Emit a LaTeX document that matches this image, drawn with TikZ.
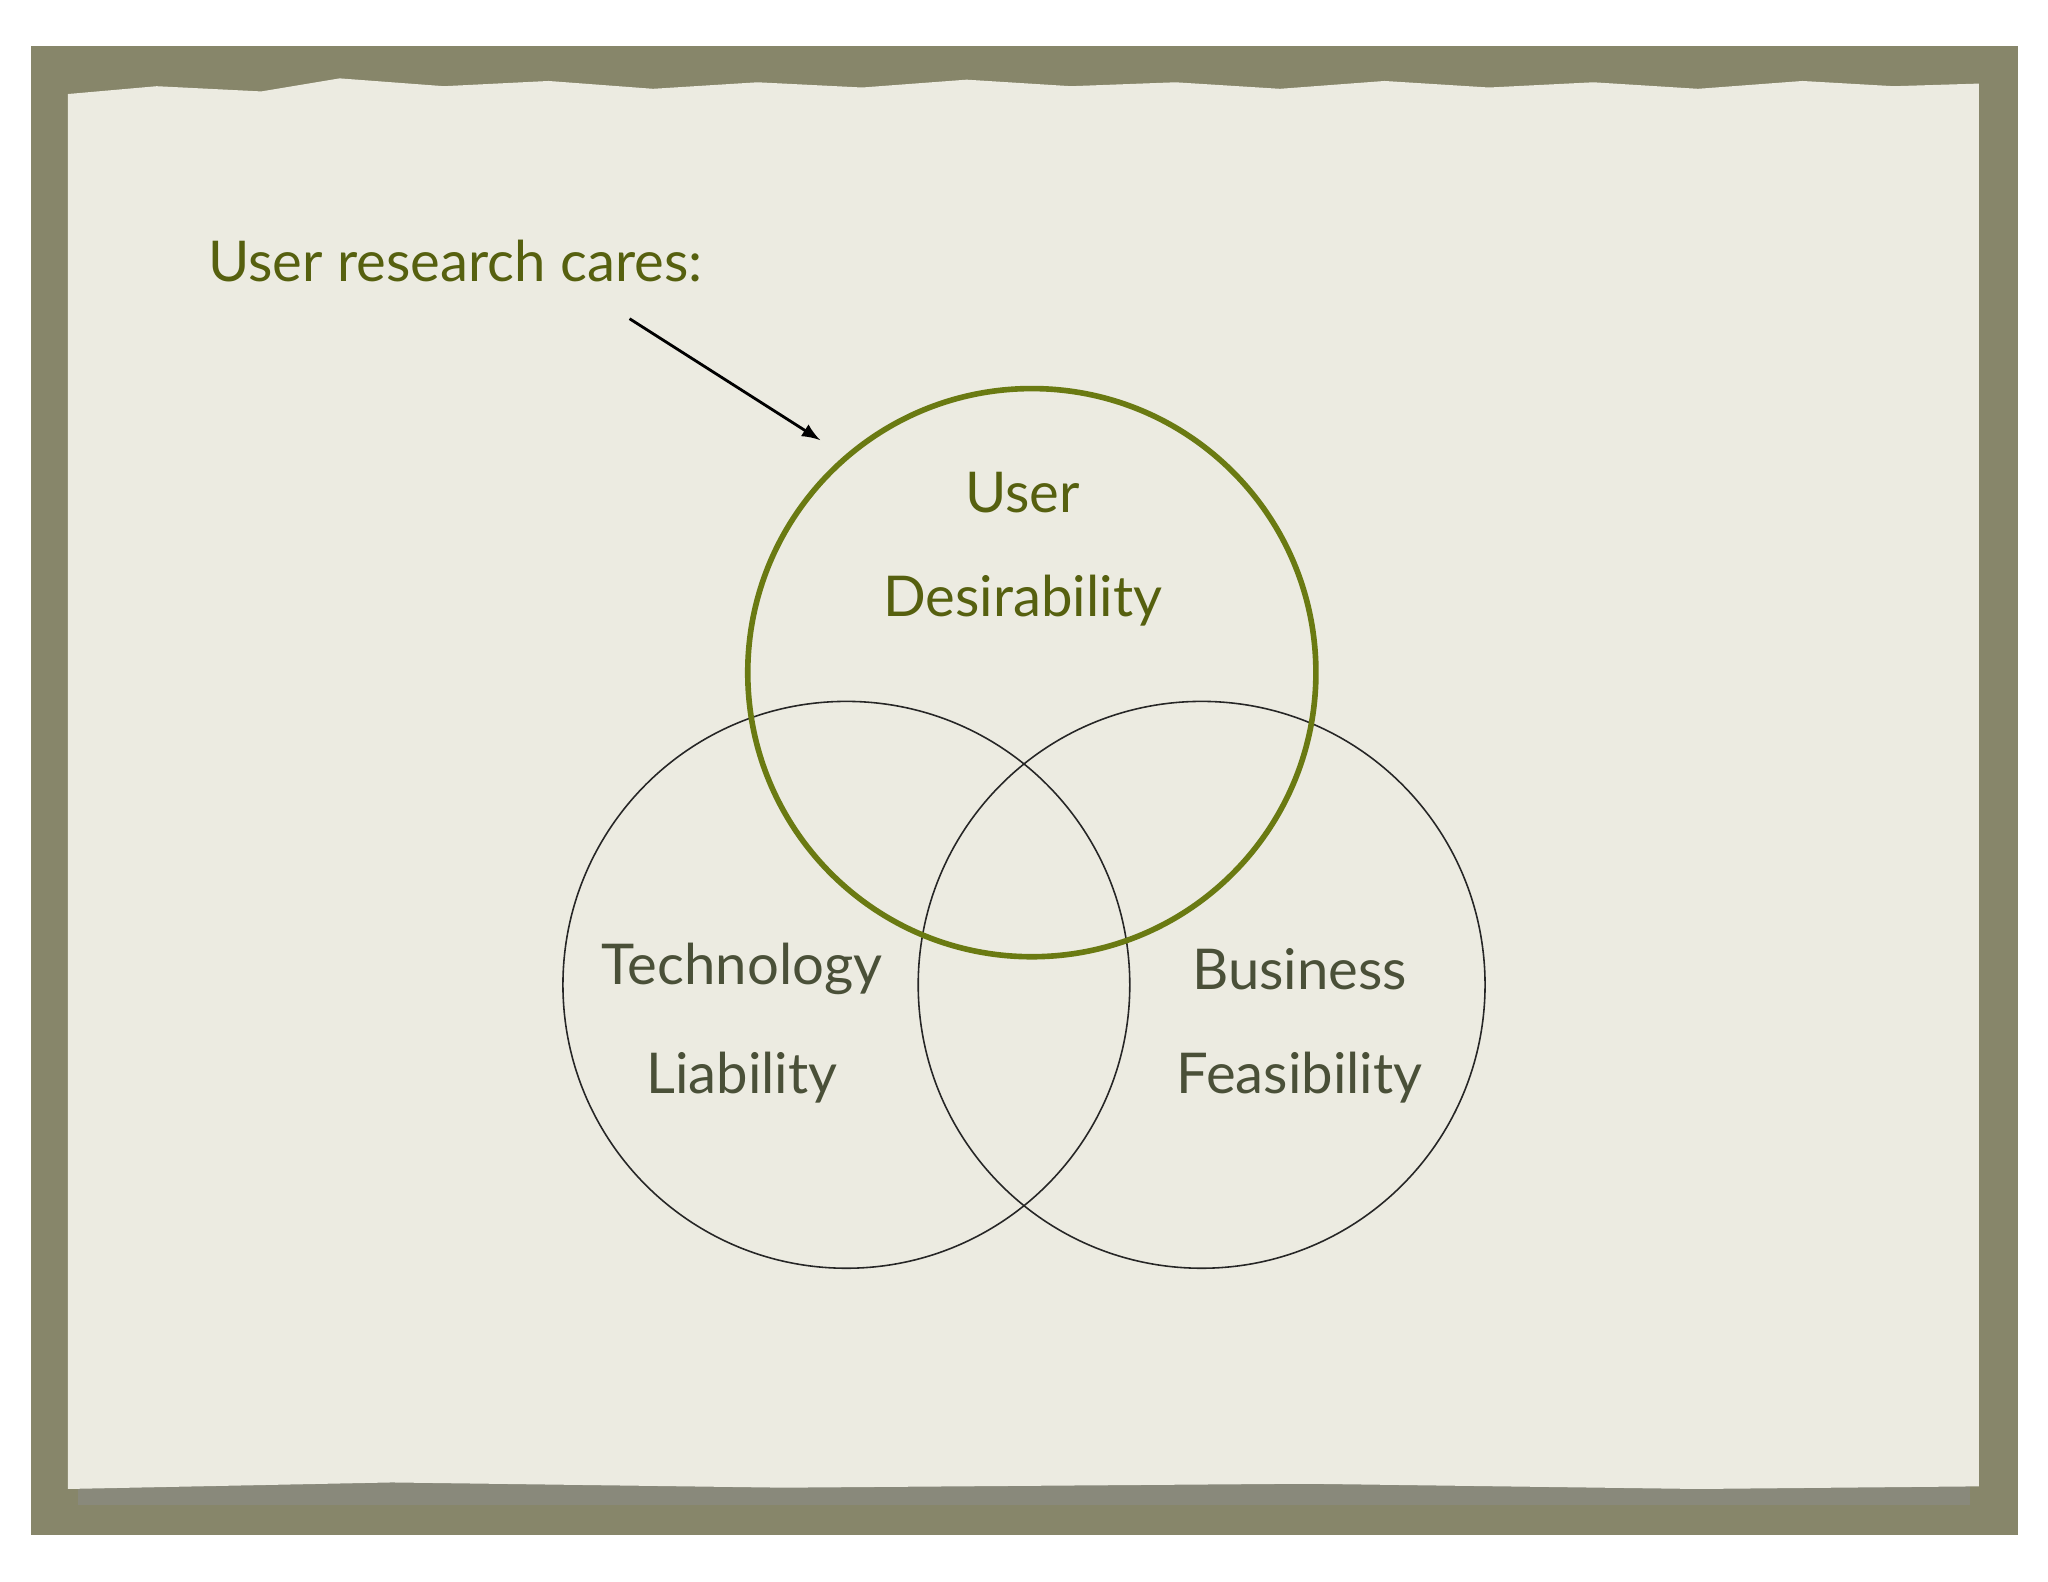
\documentclass[tikz,border=0pt]{standalone}
\usepackage{fontspec}
\setmainfont{Lato}
\begin{document}
\begin{tikzpicture}[x=0.01306cm,y=-0.01306cm,
  venn/.style={draw=black!85,line width=0.45pt},
  lbl/.style={font=\fontsize{16}{18}\selectfont,text=txtgray},
  glbl/.style={font=\fontsize{16}{18}\selectfont,text=olivetxt}]
\definecolor{frame}{HTML}{87866A}
\definecolor{paper}{HTML}{ECEBE1}
\definecolor{olivetxt}{HTML}{56600F}
\definecolor{oliveline}{HTML}{6A7A12}
\definecolor{txtgray}{HTML}{4A5038}
\useasboundingbox (0,0) rectangle (1568,1211);
\fill[white] (0,0) rectangle (1568,1211);
\fill[frame] (24,35) rectangle (1545,1175);
\fill[black!45,opacity=0.5] (60,1100) rectangle (1508,1152);
\fill[paper] (52,72) -- (120,66) -- (200,70) -- (260,60) -- (340,66) -- (420,62) -- (500,68) -- (580,63) -- (660,67) -- (740,61) -- (820,66) -- (900,63) -- (980,68) -- (1060,62) -- (1140,67) -- (1220,63) -- (1300,68) -- (1380,62) -- (1450,66) -- (1515,64) -- (1515,1138) -- (1300,1140) -- (1000,1136) -- (600,1139) -- (300,1135) -- (52,1140) -- cycle;
\node[glbl,anchor=west] (title) at (150,200) {User research cares:};
\coordinate (as) at (482,244);
\coordinate (ae) at (628,337);
\draw[-latex,line width=0.8pt] (as) -- (ae);
\node[venn,circle,minimum size=434*0.01306cm] (tl) at (648,754) {};
\node[venn,circle,minimum size=434*0.01306cm] (br) at (920,754) {};
\node[circle,draw=oliveline,line width=1.6pt,minimum size=435*0.01306cm] (ud) at (790,515) {};
\node[glbl] (u1) at (783,377) {User};
\node[glbl] (u2) at (783,460) {Desirability};
\node[lbl] (t1) at (568,742) {Technology};
\node[lbl] (t2) at (568,825) {Liability};
\node[lbl] (b1) at (995,742) {Business};
\node[lbl] (b2) at (995,825) {Feasibility};
\end{tikzpicture}
\end{document}
